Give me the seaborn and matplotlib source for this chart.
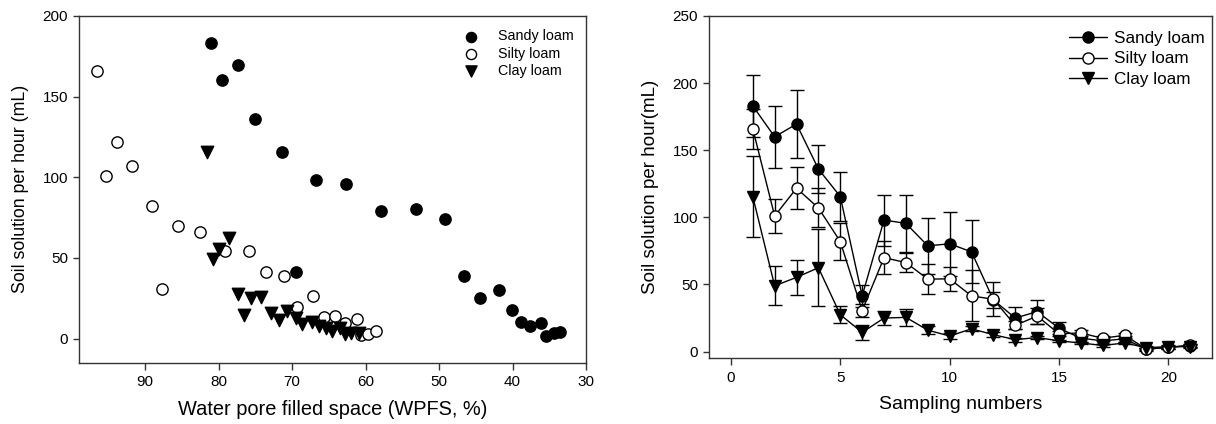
import numpy as np
import pandas as pd
import matplotlib
matplotlib.use("Agg")
import matplotlib.pyplot as plt
import seaborn as sns

# data (21 sampling events per soil type)
samples = list(range(1, 22))
soils = ["Sandy loam", "Silty loam", "Clay loam"]

sandy_wpfs = [81.0, 79.5, 77.4, 75.0, 71.35, 69.5, 66.7, 62.6, 57.9, 53.1, 49.25,
              46.6, 44.4, 41.9, 40.1, 38.8, 37.6, 36.1, 35.4, 34.4, 33.5]
silty_wpfs = [96.5, 95.3, 93.8, 91.8, 89.05, 87.7, 85.5, 82.6, 79.2, 75.9, 73.6,
              71.1, 69.35, 67.1, 65.7, 64.2, 62.8, 61.2, 60.6, 59.7, 58.6]
clay_wpfs = [81.6, 80.8, 79.9, 78.6, 77.4, 76.5, 75.6, 74.2, 72.9, 71.85, 70.7,
             69.5, 68.6, 67.35, 66.3, 65.4, 64.6, 63.5, 62.8, 62.0, 60.9]

sandy_mean = [183, 160, 169.5, 136, 115.5, 41.5, 98, 95.5, 78.8, 80.3, 74.3,
              38.5, 25, 29.8, 17.4, 10, 8, 9.5, 1.7, 3.3, 4.3]
silty_mean = [166, 101, 121.7, 107, 82, 30.5, 70, 66.3, 54, 54.2, 41.5,
              39, 19.5, 26.5, 13.3, 13.9, 9.9, 12.2, 1.9, 3.1, 4.8]
clay_mean = [115.5, 49, 55.3, 62.5, 27.5, 14.3, 25, 25.5, 16, 11.6, 17,
             12.6, 8.9, 10.5, 8, 6.4, 4.6, 6.4, 2.9, 3.7, 3.7]

sandy_err = [23, 23, 25.5, 18, 18.5, 8, 19, 21, 21, 24, 23.5, 6, 8, 9, 4.5, 3, 2, 2, 1, 1, 1]
silty_err = [15, 13, 15.6, 14.5, 14, 5, 12.5, 7, 11.4, 8.7, 19, 12.5, 3, 6, 2, 2, 2, 2, 1, 1, 1]
clay_err = [30.5, 14.5, 13, 28.5, 6.4, 5.3, 5.5, 6.6, 3, 2, 2, 2, 1.5, 1, 1, 1, 1, 1, 1, 1, 1]

frames = []
for soil, w, m, e in zip(soils, [sandy_wpfs, silty_wpfs, clay_wpfs],
                         [sandy_mean, silty_mean, clay_mean],
                         [sandy_err, silty_err, clay_err]):
    frames.append(pd.DataFrame({"soil": soil, "sample": samples, "wpfs": w, "mean": m, "err": e}))
df = pd.concat(frames, ignore_index=True)

sns.set_style("ticks")
plt.rcParams["font.family"] = ["Liberation Sans", "DejaVu Sans"]
plt.rcParams["text.color"] = "black"
plt.rcParams["axes.labelcolor"] = "black"
plt.rcParams["xtick.labelcolor"] = "black"
plt.rcParams["ytick.labelcolor"] = "black"

# marker styles per soil: (marker, face colour)
styles = {"Sandy loam": ("o", "black"), "Silty loam": ("o", "white"), "Clay loam": ("v", "black")}

fig = plt.figure(figsize=(12.16, 4.24), dpi=100)
ax1 = fig.add_axes([0.065, 0.1446, 0.4169, 0.8177])
ax2 = fig.add_axes([0.5831, 0.1549, 0.4137, 0.8074])

# left panel: scatter of flow vs WPFS
for soil in soils:
    d = df[df["soil"] == soil]
    mk, fc = styles[soil]
    sns.scatterplot(data=d, x="wpfs", y="mean", ax=ax1, marker=mk, s=66 if mk == "o" else 80,
                    color=fc, edgecolor="black", linewidth=1.0, label=soil, zorder=3)

ax1.set_xlim(99, 30)
ax1.set_ylim(-15, 200)
ax1.set_xticks([90, 80, 70, 60, 50, 40, 30])
ax1.set_yticks([0, 50, 100, 150, 200])
ax1.set_xlabel("Water pore filled space (WPFS, %)", fontsize=14.4, labelpad=8)
ax1.set_ylabel("Soil solution per hour (mL)", fontsize=12.8, labelpad=10)
ax1.legend(loc="upper right", bbox_to_anchor=(0.995, 0.99), frameon=False, fontsize=10.3,
           handletextpad=0.9, labelspacing=0.22, borderaxespad=0.3, markerscale=0.9)

# right panel: mean +- error over sampling numbers
for soil in soils:
    d = df[df["soil"] == soil]
    mk, fc = styles[soil]
    ax2.errorbar(d["sample"], d["mean"], yerr=d["err"], fmt="none", ecolor="black",
                 elinewidth=1.0, capsize=5, capthick=1.0, zorder=2)
    sns.lineplot(data=d, x="sample", y="mean", ax=ax2, color="black", linewidth=1.0,
                 marker=mk, markersize=8 if mk == "o" else 8.5, markerfacecolor=fc,
                 markeredgecolor="black", markeredgewidth=1.0, label=soil, zorder=3)

ax2.set_xlim(-1, 22)
ax2.set_ylim(-5, 250)
ax2.set_xticks([0, 5, 10, 15, 20])
ax2.set_yticks([0, 50, 100, 150, 200, 250])
ax2.set_xlabel("Sampling numbers", fontsize=14, labelpad=8)
ax2.set_ylabel("Soil solution per hour(mL)", fontsize=13.5, labelpad=10)
ax2.legend(loc="upper right", bbox_to_anchor=(1.005, 0.985), frameon=False, fontsize=12.3,
           handlelength=2.2, handletextpad=0.4, labelspacing=0.3, borderaxespad=0.2)

for ax in (ax1, ax2):
    for sp in ax.spines.values():
        sp.set_color("#333333")
        sp.set_linewidth(1.0)
    ax.tick_params(direction="out", color="#333333", labelsize=11, labelcolor="black",
                   top=False, right=False)
    ax.tick_params(axis="x", length=5, width=1, pad=4)
    ax.tick_params(axis="y", length=4, width=1, pad=4)

fig.savefig("out.png", dpi=100)
